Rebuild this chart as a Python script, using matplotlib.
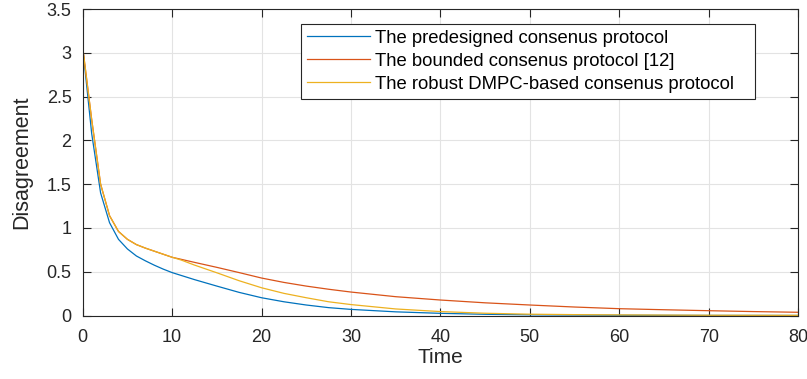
import matplotlib
matplotlib.use("Agg")
import matplotlib.pyplot as plt
from matplotlib.ticker import FuncFormatter, MultipleLocator

plt.rcParams['font.family'] = ['Liberation Sans', 'DejaVu Sans']

# disagreement vs. time for the three protocols
t_pre = [0, 1, 2, 3, 4, 5, 6, 7, 8, 9, 10, 12.5, 15, 17.5, 20, 22.5, 25,
         27.5, 30, 35, 40, 45, 50, 60, 70, 80]
d_pre = [3.06, 2.08, 1.40, 1.06, 0.87, 0.76, 0.68, 0.625, 0.575, 0.53, 0.49,
         0.41, 0.336, 0.264, 0.203, 0.157, 0.12, 0.09, 0.07, 0.042, 0.025,
         0.014, 0.008, 0.003, 0.001, 0.0005]

t_bnd = [0, 1, 2, 3, 4, 5, 6, 7, 8, 9, 10, 11, 12.5, 15, 17.5, 20, 22.5, 25,
         27.5, 30, 35, 40, 45, 50, 55, 60, 65, 70, 75, 80]
d_bnd = [3.06, 2.24, 1.50, 1.14, 0.96, 0.87, 0.81, 0.77, 0.735, 0.70, 0.665,
         0.642, 0.607, 0.55, 0.49, 0.428, 0.378, 0.336, 0.30, 0.268, 0.215,
         0.177, 0.145, 0.12, 0.097, 0.078, 0.066, 0.055, 0.045, 0.037]

t_dmpc = [0, 1, 2, 3, 4, 5, 6, 7, 8, 9, 10, 11, 12.5, 15, 17.5, 20, 22.5, 25,
          27.5, 30, 35, 40, 45, 50, 55, 60, 70, 80]
d_dmpc = [3.06, 2.24, 1.50, 1.14, 0.96, 0.87, 0.81, 0.77, 0.735, 0.70, 0.665,
          0.634, 0.576, 0.488, 0.397, 0.317, 0.253, 0.203, 0.157, 0.125,
          0.075, 0.045, 0.026, 0.015, 0.01, 0.007, 0.003, 0.002]

labels = ['The predesigned consenus protocol',
          'The bounded consenus protocol [12]',
          'The robust DMPC-based consenus protocol']
colors = ['#0072BD', '#D95319', '#EDB120']

fig = plt.figure(figsize=(8.07, 3.79), dpi=100)
ax = fig.add_axes([0.1025, 0.1675, 0.8864, 0.8087])

ax.plot(t_pre, d_pre, color=colors[0], lw=0.9, label=labels[0])
ax.plot(t_bnd, d_bnd, color=colors[1], lw=0.9, label=labels[1])
ax.plot(t_dmpc, d_dmpc, color=colors[2], lw=0.9, label=labels[2])

ax.set_xlim(0, 80)
ax.set_ylim(0, 3.5)
ax.xaxis.set_major_locator(MultipleLocator(10))
ax.yaxis.set_major_locator(MultipleLocator(0.5))
ax.yaxis.set_major_formatter(FuncFormatter(lambda v, p: '%g' % v))

ax.grid(True, color='#e3e3e3', lw=0.8)
ax.set_axisbelow(True)
for s in ax.spines.values():
    s.set_color('#262626')
    s.set_linewidth(0.8)
ax.tick_params(direction='in', length=6, width=0.8, color='#262626',
               top=True, right=True, labelsize=13, labelcolor='#262626')
ax.tick_params(axis='x', pad=10)
ax.tick_params(axis='y', pad=8)

ax.set_xlabel('Time', fontsize=15, color='#262626', labelpad=1)
ax.set_ylabel('Disagreement', fontsize=15.5, color='#262626', labelpad=10)

# legend box stretched to the width of the northeast slot
leg = ax.legend(loc='upper left', bbox_to_anchor=(0.305, 0.0, 0.635, 0.951),
                mode='expand', borderaxespad=0, fontsize=13.3, fancybox=False,
                framealpha=1, edgecolor='#262626', handlelength=3.4,
                handletextpad=0.3, labelspacing=0.32, borderpad=0.32)
leg.get_frame().set_linewidth(0.8)

fig.savefig('out.png', dpi=100)
